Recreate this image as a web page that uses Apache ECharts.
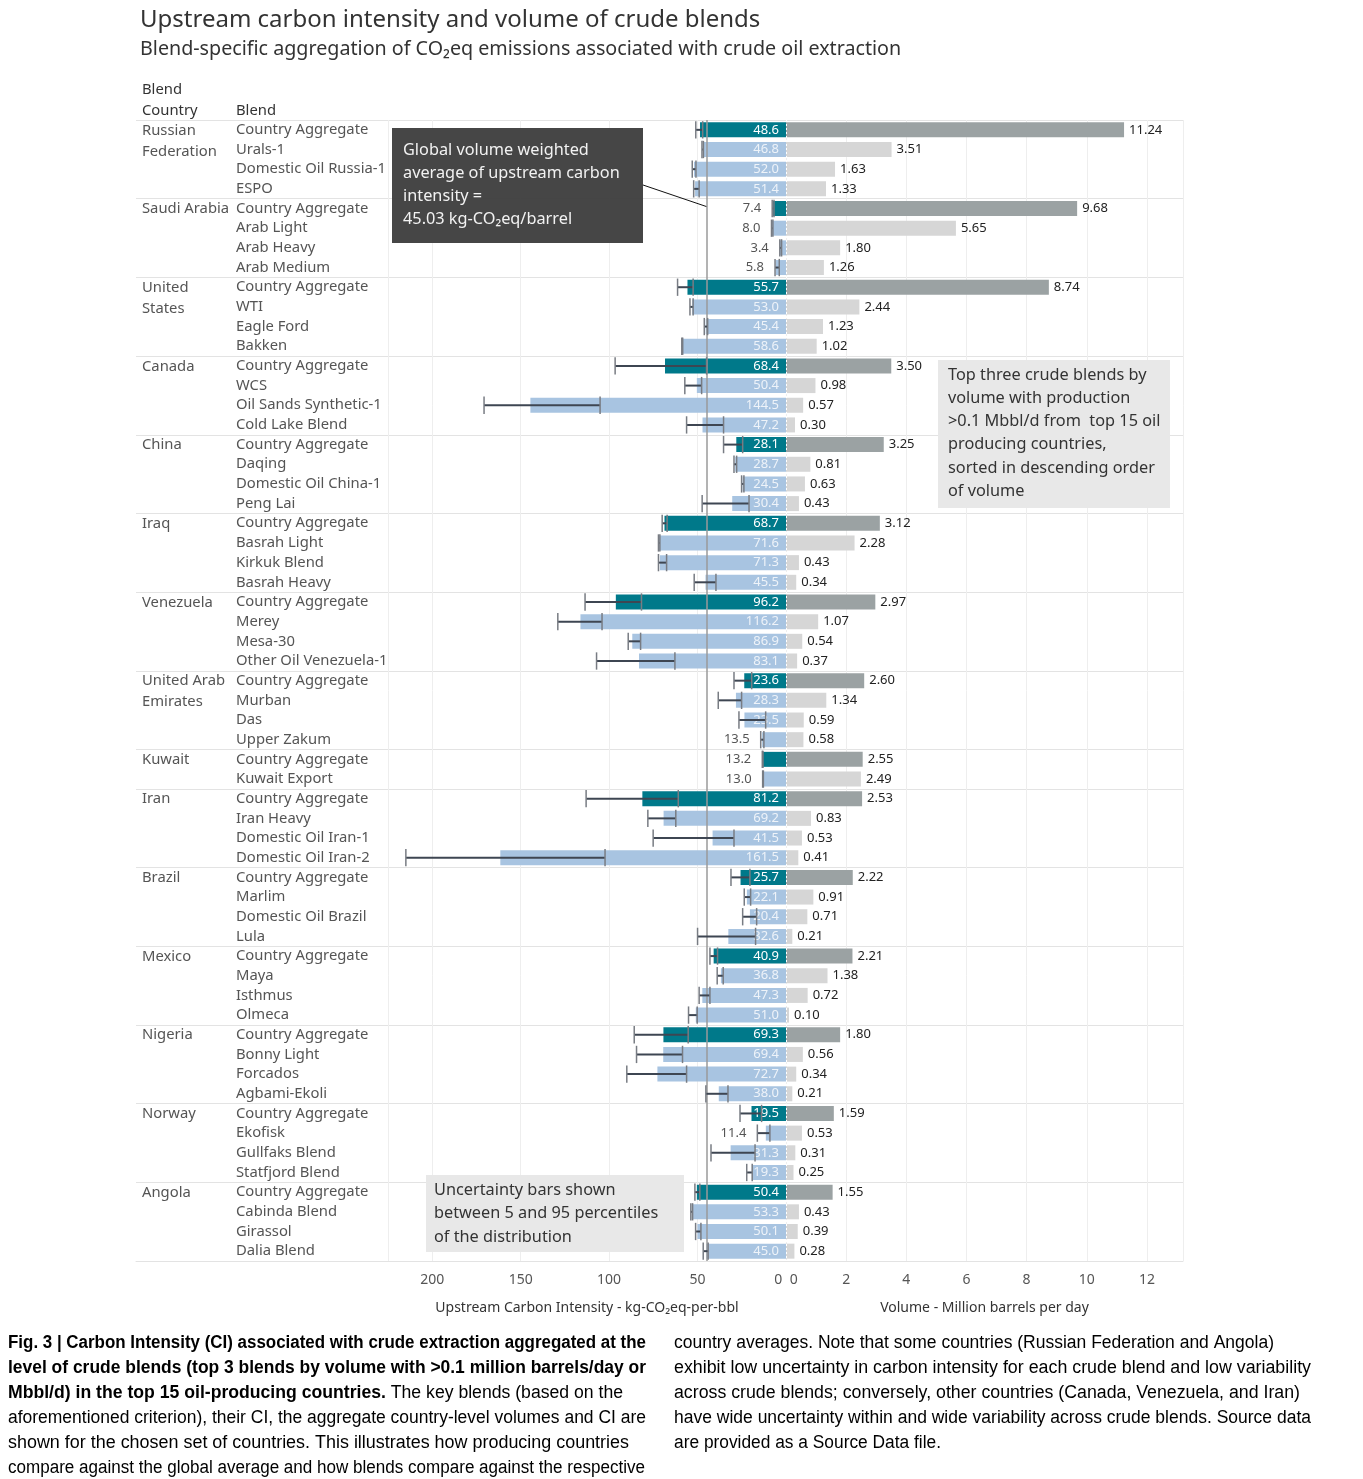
<!DOCTYPE html>
<html><head><meta charset="utf-8">
<script src="https://cdn.jsdelivr.net/npm/echarts@6/dist/echarts.min.js"></script>
<style>html,body{margin:0;padding:0;background:#fff}#c{width:1363px;height:1479px}</style>
</head><body><div id="c"></div>
<script>
const countries = ['Russian\nFederation','Saudi Arabia','United\nStates','Canada','China','Iraq','Venezuela','United Arab\nEmirates','Kuwait','Iran','Brazil','Mexico','Nigeria','Norway','Angola'];
const blendsPerCountry = [4,4,4,4,4,4,4,4,2,4,4,4,4,4,4];
const blends = [
 'Country Aggregate','Urals-1','Domestic Oil Russia-1','ESPO',
 'Country Aggregate','Arab Light','Arab Heavy','Arab Medium',
 'Country Aggregate','WTI','Eagle Ford','Bakken',
 'Country Aggregate','WCS','Oil Sands Synthetic-1','Cold Lake Blend',
 'Country Aggregate','Daqing','Domestic Oil China-1','Peng Lai',
 'Country Aggregate','Basrah Light','Kirkuk Blend','Basrah Heavy',
 'Country Aggregate','Merey','Mesa-30','Other Oil Venezuela-1',
 'Country Aggregate','Murban','Das','Upper Zakum',
 'Country Aggregate','Kuwait Export',
 'Country Aggregate','Iran Heavy','Domestic Oil Iran-1','Domestic Oil Iran-2',
 'Country Aggregate','Marlim','Domestic Oil Brazil','Lula',
 'Country Aggregate','Maya','Isthmus','Olmeca',
 'Country Aggregate','Bonny Light','Forcados','Agbami-Ekoli',
 'Country Aggregate','Ekofisk','Gullfaks Blend','Statfjord Blend',
 'Country Aggregate','Cabinda Blend','Girassol','Dalia Blend'
];
const ci = [48.6,46.8,52.0,51.4, 7.4,8.0,3.4,5.8, 55.7,53.0,45.4,58.6, 68.4,50.4,144.5,47.2,
 28.1,28.7,24.5,30.4, 68.7,71.6,71.3,45.5, 96.2,116.2,86.9,83.1, 23.6,28.3,23.5,13.5,
 13.2,13.0, 81.2,69.2,41.5,161.5, 25.7,22.1,20.4,32.6, 40.9,36.8,47.3,51.0,
 69.3,69.4,72.7,38.0, 19.5,11.4,31.3,19.3, 50.4,53.3,50.1,45.0];
const ciLow = [47.1,46.7,50.9,49.1, 6.8,7.4,2.5,3.8, 52.5,52.5,44.3,58.4, 44.9,47.7,105.1,35.3,
 24.5,27.9,23.8,20.9, 67.2,71.3,67.5,39.6, 81.7,104.0,82.2,62.8, 19.4,25.1,11.5,12.5,
 13.0,12.8, 60.9,62.3,29.4,102.3, 20.4,20.0,16.6,17.2, 38.7,35.5,43.0,50.2,
 55.3,58.5,56.2,32.8, 13.8,9.1,17.5,19.1, 48.7,52.8,48.1,44.0];
const ciHigh = [51.0,47.5,53.0,52.2, 7.8,8.2,3.5,6.2, 61.3,54.3,46.2,58.9, 96.6,57.2,170.7,56.2,
 35.3,29.4,25.1,47.4, 70.0,72.1,72.1,51.9, 113.6,129.0,89.2,107.1, 29.4,38.3,26.6,14.3,
 13.4,13.2, 113.0,78.1,75.1,214.9, 31.1,23.6,24.5,50.0, 43.0,38.9,49.1,55.1,
 85.8,84.5,90.0,45.3, 26.0,16.2,42.4,22.2, 51.5,53.8,51.1,46.8];
const volume = [11.24,3.51,1.63,1.33, 9.68,5.65,1.80,1.26, 8.74,2.44,1.23,1.02, 3.50,0.98,0.57,0.30,
 3.25,0.81,0.63,0.43, 3.12,2.28,0.43,0.34, 2.97,1.07,0.54,0.37, 2.60,1.34,0.59,0.58,
 2.55,2.49, 2.53,0.83,0.53,0.41, 2.22,0.91,0.71,0.21, 2.21,1.38,0.72,0.10,
 1.80,0.56,0.34,0.21, 1.59,0.53,0.31,0.25, 1.55,0.43,0.39,0.28];
const GLOBAL_AVG = 45.03;
const AGG = 'Country Aggregate';

const TEAL = '#00798a', LBLUE = '#a8c4e1', DGRAY = '#9ba2a3', LGRAY = '#d6d6d6';
const FONT = "'Noto Sans', 'Open Sans', sans-serif";
const CAPFONT = "'Liberation Sans', Arial, sans-serif";

const groupStarts = new Set();
let acc = 0;
blendsPerCountry.forEach(n => { groupStarts.add(acc); acc += n; });
groupStarts.add(acc);

const chart = echarts.init(document.getElementById('c'), null, {renderer: 'canvas'});

const catAxis = (gi, showLabel) => ({
  type: 'category', gridIndex: gi, data: blends, inverse: true,
  axisLine: {show: false}, axisTick: {show: false},
  axisLabel: showLabel ? {show: true, inside: true, margin: 100, interval: 0, align: 'left',
    color: '#555', fontSize: 14.8, fontFamily: FONT} : {show: false},
  splitLine: {show: true, interval: (i) => groupStarts.has(i), lineStyle: {color: '#e3e3e3', width: 1}}
});

const option = {
  animation: false,
  backgroundColor: '#fff',
  textStyle: {fontFamily: FONT},
  title: [
    {text: 'Upstream carbon intensity and volume of crude blends', left: 140, top: 8, padding: 0,
     textStyle: {fontSize: 24, fontWeight: 'normal', color: '#333', fontFamily: FONT}},
    {text: 'Blend-specific aggregation of CO\u2082eq emissions associated with crude oil extraction', left: 140, top: 39, padding: 0,
     textStyle: {fontSize: 19.7, fontWeight: 'normal', color: '#333', fontFamily: FONT}}
  ],
  grid: [
    {left: 136, top: 120, width: 252, height: 1141},
    {left: 388, top: 120, width: 398, height: 1141},
    {left: 786, top: 120, width: 397, height: 1141}
  ],
  xAxis: [
    {type: 'value', gridIndex: 0, min: 0, max: 1, axisLabel: {show: false}, axisTick: {show: false},
     splitLine: {show: false}, axisLine: {show: true, lineStyle: {color: '#e3e3e3'}}},
    {type: 'value', gridIndex: 1, inverse: true, min: 0, max: 225, interval: 50,
     axisLine: {show: true, lineStyle: {color: '#e3e3e3'}}, axisTick: {show: false},
     axisLabel: {color: '#555', fontSize: 14, margin: 12, showMaxLabel: false, alignMinLabel: 'right', fontFamily: FONT,
       formatter: v => v === 0 ? '0 ' : String(v)},
     splitLine: {show: true, lineStyle: {color: '#eeeeee'}},
     name: 'Upstream Carbon Intensity - kg-CO\u2082eq-per-bbl', nameLocation: 'middle', nameGap: 40,
     nameTextStyle: {color: '#333', fontSize: 14, fontFamily: FONT}},
    {type: 'value', gridIndex: 2, min: 0, max: 13.2, interval: 2,
     axisLine: {show: true, lineStyle: {color: '#e3e3e3'}}, axisTick: {show: false},
     axisLabel: {color: '#555', fontSize: 14, margin: 12, showMaxLabel: false, alignMinLabel: 'left', fontFamily: FONT,
       formatter: v => v === 0 ? ' 0' : String(v)},
     splitLine: {show: true, lineStyle: {color: '#eeeeee'}},
     name: 'Volume - Million barrels per day', nameLocation: 'middle', nameGap: 40,
     nameTextStyle: {color: '#333', fontSize: 14, fontFamily: FONT}}
  ],
  yAxis: [catAxis(0, true), catAxis(1, false), catAxis(2, false)],
  series: [
    {
      type: 'bar', xAxisIndex: 1, yAxisIndex: 1, barWidth: 15, z: 2,
      data: blends.map((b, i) => ({
        value: ci[i],
        itemStyle: {color: b === AGG ? TEAL : LBLUE},
        label: {show: ci[i] >= 15, color: b === AGG ? '#ffffff' : '#eef3f9'}
      })),
      label: {position: 'insideRight', distance: 7, fontSize: 13, fontFamily: FONT,
        formatter: p => p.value.toFixed(1)},
      markLine: {
        silent: true, symbol: 'none', z: 4,
        label: {show: false},
        lineStyle: {color: '#9a9a9a', width: 1.5, type: 'solid'},
        data: [{xAxis: GLOBAL_AVG}]
      }
    },
    {
      type: 'custom', xAxisIndex: 1, yAxisIndex: 1, z: 5,
      encode: {x: [1, 2], y: 0},
      data: blends.map((b, i) => [i, ciLow[i], ciHigh[i], ci[i]]),
      renderItem: (params, api) => {
        const idx = api.value(0);
        const pL = api.coord([api.value(1), idx]);
        const pH = api.coord([api.value(2), idx]);
        const h = api.size([0, 1])[1] * 0.88;
        const y = pL[1];
        const children = [
          {type: 'line', shape: {x1: pH[0], y1: y, x2: pL[0], y2: y}, style: {stroke: '#3e4652', lineWidth: 2}},
          {type: 'line', shape: {x1: pH[0], y1: y - h / 2, x2: pH[0], y2: y + h / 2}, style: {stroke: '#787c83', lineWidth: 1.5}},
          {type: 'line', shape: {x1: pL[0], y1: y - h / 2, x2: pL[0], y2: y + h / 2}, style: {stroke: '#787c83', lineWidth: 1.5}}
        ];
        const v = api.value(3);
        if (v < 15) {
          children.push({type: 'text', style: {text: v.toFixed(1), x: pH[0] - 11, y: y, align: 'right', verticalAlign: 'middle',
            fill: '#555', fontSize: 13, fontFamily: FONT}});
        }
        return {type: 'group', children};
      }
    },
    {
      type: 'bar', xAxisIndex: 2, yAxisIndex: 2, barWidth: 15, z: 2,
      data: blends.map((b, i) => ({value: volume[i], itemStyle: {color: b === AGG ? DGRAY : LGRAY}})),
      label: {show: true, position: 'right', distance: 5, color: '#222', fontSize: 13, fontFamily: FONT,
        formatter: p => p.value.toFixed(2)},
      markLine: {
        silent: true, symbol: 'none', z: 4, label: {show: false},
        lineStyle: {color: '#ffffff', width: 1, type: [2, 2]},
        data: [{xAxis: 0}]
      }
    }
  ]
};
chart.setOption(option);

// Annotations and row-group labels positioned from the library's scales
const graphics = [];
const headStyle = {fill: '#333', fontSize: 14.8, fontFamily: FONT};
graphics.push({type: 'text', left: 142, top: 82, style: Object.assign({text: 'Blend'}, headStyle)});
graphics.push({type: 'text', left: 142, top: 103, style: Object.assign({text: 'Country'}, headStyle)});
graphics.push({type: 'text', left: 236, top: 103, style: Object.assign({text: 'Blend'}, headStyle)});

let start = 0;
countries.forEach((c, k) => {
  const yc = chart.convertToPixel({yAxisIndex: 0}, start);
  graphics.push({type: 'text', x: 142, y: yc - 10,
    style: {text: c, fill: '#555', fontSize: 14.8, fontFamily: FONT, lineHeight: 21, verticalAlign: 'top'}});
  start += blendsPerCountry[k];
});

const avgX = chart.convertToPixel({xAxisIndex: 1}, GLOBAL_AVG);
const row2y = chart.convertToPixel({yAxisIndex: 1}, 4);
graphics.push({type: 'line', shape: {x1: 643, y1: 185, x2: avgX, y2: row2y - 2}, style: {stroke: '#111', lineWidth: 1}, z: 10});
graphics.push({type: 'rect', shape: {x: 392, y: 128, width: 251, height: 115}, style: {fill: 'rgba(62,62,62,0.96)'}, z: 10});
graphics.push({type: 'text', x: 403, y: 139.5, z: 11, style: {
  text: 'Global volume weighted\naverage of upstream carbon\nintensity =\n45.03 kg-CO\u2082eq/barrel',
  fill: '#f2f2f2', fontSize: 16.3, lineHeight: 22.7, fontFamily: FONT, verticalAlign: 'top'}});

graphics.push({type: 'rect', shape: {x: 938, y: 360, width: 232, height: 148}, style: {fill: '#e8e8e8'}, z: 10});
graphics.push({type: 'text', x: 948, y: 363.5, z: 11, style: {
  text: 'Top three crude blends by\nvolume with production\n>0.1 Mbbl/d from  top 15 oil\nproducing countries,\nsorted in descending order\nof volume',
  fill: '#333', fontSize: 16.3, lineHeight: 23.2, fontFamily: FONT, verticalAlign: 'top'}});

graphics.push({type: 'rect', shape: {x: 426, y: 1175, width: 258, height: 77}, style: {fill: '#e8e8e8'}, z: 10});
graphics.push({type: 'text', x: 434, y: 1178.5, z: 11, style: {
  text: 'Uncertainty bars shown\nbetween 5 and 95 percentiles\nof the distribution',
  fill: '#333', fontSize: 16.3, lineHeight: 23.5, fontFamily: FONT, verticalAlign: 'top'}});

// Figure caption: each line fitted to its width in the reference column
const CAP_SIZE = 18;
const mctx = document.createElement('canvas').getContext('2d');
function measure(t, bold) { mctx.font = (bold ? 'bold ' : '') + CAP_SIZE + 'px ' + CAPFONT; return mctx.measureText(t).width; }
const capLeft = [
  [[['Fig. 3 | Carbon Intensity (CI) associated with crude extraction aggregated at the', 1]], 638],
  [[['level of crude blends (top 3 blends by volume with >0.1 million barrels/day or', 1]], 638],
  [[['Mbbl/d) in the top 15 oil-producing countries.', 1], [' The key blends (based on the', 0]], 615],
  [[['aforementioned criterion), their CI, the aggregate country-level volumes and CI are', 0]], 638],
  [[['shown for the chosen set of countries. This illustrates how producing countries', 0]], 621],
  [[['compare against the global average and how blends compare against the respective', 0]], 637]
];
const capRight = [
  [[['country averages. Note that some countries (Russian Federation and Angola)', 0]], 600],
  [[['exhibit low uncertainty in carbon intensity for each crude blend and low variability', 0]], 637],
  [[['across crude blends; conversely, other countries (Canada, Venezuela, and Iran)', 0]], 626],
  [[['have wide uncertainty within and wide variability across crude blends. Source data', 0]], 637],
  [[['are provided as a Source Data file.', 0]], 267]
];
const capRich = {
  b: {fontWeight: 'bold', fontSize: CAP_SIZE, fontFamily: CAPFONT, fill: '#000'},
  r: {fontWeight: 'normal', fontSize: CAP_SIZE, fontFamily: CAPFONT, fill: '#000'}
};
function addCaption(lines, x0) {
  lines.forEach((ln, k) => {
    const segs = ln[0];
    const natural = segs.reduce((s, g) => s + measure(g[0], g[1]), 0);
    const txt = segs.map(g => '{' + (g[1] ? 'b' : 'r') + '|' + g[0] + '}').join('');
    graphics.push({type: 'text', x: x0, y: 1343 + k * 25, scaleX: ln[1] / natural, originX: 0, originY: 0,
      style: {text: txt, rich: capRich, verticalAlign: 'middle', fontFamily: CAPFONT, fontSize: CAP_SIZE}});
  });
}
addCaption(capLeft, 8);
addCaption(capRight, 674);

chart.setOption({graphic: graphics});
</script>
</body></html>
